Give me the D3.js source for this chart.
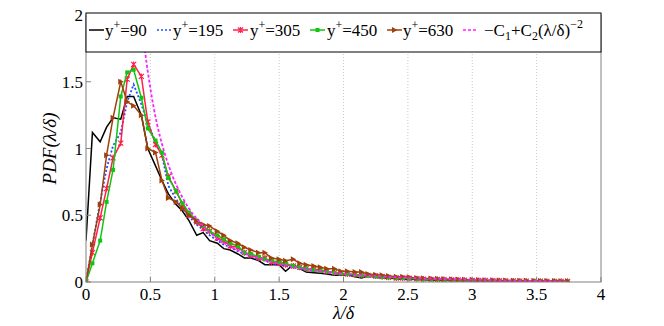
<!DOCTYPE html>
<html>
<head>
<meta charset="utf-8">
<script src="https://cdn.jsdelivr.net/npm/d3@7"></script>
<style>
  body { margin: 0; background: #fff; }
</style>
</head>
<body>
<div id="chart"></div>
<script>
// lambda/delta bin centres shared by the measured series
const lambda = [0.00, 0.05, 0.11, 0.16, 0.21, 0.27, 0.32, 0.37, 0.43, 0.48,
  0.54, 0.59, 0.64, 0.70, 0.75, 0.80, 0.86, 0.91, 0.96, 1.02,
  1.07, 1.12, 1.18, 1.23, 1.28, 1.34, 1.39, 1.44, 1.50, 1.55,
  1.61, 1.66, 1.71, 1.77, 1.82, 1.87, 1.93, 1.98, 2.03, 2.09,
  2.14, 2.19, 2.25, 2.30, 2.35, 2.41, 2.46, 2.51, 2.57, 2.62,
  2.68, 2.73, 2.78, 2.84, 2.89, 2.94, 3.00, 3.05, 3.10, 3.16,
  3.21, 3.26, 3.32, 3.37, 3.42, 3.48, 3.53, 3.58, 3.64, 3.69, 3.74];

const pdf90 = [0.31, 1.12, 1.05, 1.16, 1.23, 1.22, 1.39, 1.39, 1.25, 1.00,
  0.87, 0.76, 0.66, 0.58, 0.53, 0.46, 0.35, 0.37, 0.31, 0.29,
  0.25, 0.24, 0.21, 0.18, 0.18, 0.16, 0.13, 0.13, 0.13, 0.08,
  0.13, 0.10, 0.075, 0.07, 0.065, 0.06, 0.05, 0.05, 0.055, 0.04,
  0.03, 0.045, 0.035, 0.03, 0.03, 0.025, 0.02, 0.02, 0.018, 0.016,
  0.015, 0.013, 0.012, 0.012, 0.01, 0.01, 0.009, 0.008, 0.008, 0.007,
  0.006, 0.006, 0.005, 0.005, 0.004, 0.004, 0.004, 0.003, 0.003, 0.003, 0.003];

const pdf195 = [0.0, 0.28, 0.60, 0.85, 1.02, 1.12, 1.35, 1.48, 1.33, 1.19,
  1.05, 0.95, 0.72, 0.62, 0.55, 0.49, 0.43, 0.39, 0.35, 0.31,
  0.28, 0.26, 0.23, 0.21, 0.19, 0.17, 0.16, 0.14, 0.13, 0.12,
  0.11, 0.10, 0.09, 0.085, 0.08, 0.072, 0.066, 0.06, 0.055, 0.05,
  0.047, 0.043, 0.04, 0.036, 0.033, 0.03, 0.028, 0.026, 0.024, 0.022,
  0.02, 0.019, 0.018, 0.016, 0.015, 0.014, 0.013, 0.012, 0.011, 0.01,
  0.009, 0.009, 0.008, 0.007, 0.007, 0.006, 0.006, 0.005, 0.005, 0.005, 0.004];

const pdf305 = [0.0, 0.22, 0.48, 0.70, 0.93, 1.04, 1.52, 1.63, 1.54, 1.20,
  1.03, 0.95, 0.79, 0.68, 0.58, 0.50, 0.45, 0.40, 0.38, 0.33,
  0.31, 0.27, 0.26, 0.22, 0.20, 0.18, 0.18, 0.15, 0.14, 0.13,
  0.12, 0.11, 0.10, 0.095, 0.09, 0.08, 0.07, 0.065, 0.06, 0.055,
  0.05, 0.05, 0.045, 0.04, 0.035, 0.03, 0.03, 0.028, 0.025, 0.022,
  0.02, 0.019, 0.018, 0.016, 0.015, 0.013, 0.012, 0.011, 0.011, 0.01,
  0.009, 0.008, 0.008, 0.007, 0.007, 0.006, 0.006, 0.005, 0.005, 0.005, 0.005];

const pdf450 = [0.0, 0.14, 0.31, 0.60, 0.84, 1.39, 1.57, 1.59, 1.38, 1.15,
  1.06, 0.97, 0.78, 0.68, 0.59, 0.52, 0.46, 0.42, 0.38, 0.35,
  0.32, 0.29, 0.27, 0.22, 0.21, 0.19, 0.17, 0.16, 0.15, 0.14,
  0.12, 0.11, 0.10, 0.09, 0.085, 0.08, 0.07, 0.065, 0.06, 0.055,
  0.05, 0.047, 0.042, 0.038, 0.035, 0.032, 0.03, 0.027, 0.024, 0.022,
  0.02, 0.019, 0.017, 0.016, 0.014, 0.013, 0.012, 0.011, 0.01, 0.01,
  0.009, 0.008, 0.008, 0.007, 0.006, 0.006, 0.005, 0.005, 0.005, 0.004, 0.004];

const pdf630 = [0.0, 0.28, 0.58, 0.95, 1.23, 1.50, 1.35, 1.32, 1.25, 1.00,
  0.97, 0.76, 0.63, 0.60, 0.55, 0.50, 0.46, 0.43, 0.42, 0.38,
  0.35, 0.31, 0.29, 0.26, 0.24, 0.22, 0.22, 0.18, 0.17, 0.16,
  0.17, 0.14, 0.13, 0.12, 0.11, 0.10, 0.10, 0.08, 0.08, 0.075,
  0.075, 0.06, 0.055, 0.05, 0.045, 0.04, 0.04, 0.035, 0.03, 0.028,
  0.027, 0.024, 0.022, 0.02, 0.019, 0.017, 0.016, 0.015, 0.014, 0.013,
  0.012, 0.011, 0.01, 0.01, 0.009, 0.008, 0.008, 0.007, 0.007, 0.006, 0.006];

// fitted -C1 + C2 (lambda/delta)^-2
const fitX = [0.43, 0.46, 0.50, 0.55, 0.60, 0.65, 0.70, 0.80, 0.90, 1.00,
  1.20, 1.40, 1.60, 1.80, 2.00, 2.50, 3.00, 3.50, 3.74];
const fitY = [2.00, 1.72, 1.45, 1.19, 1.00, 0.85, 0.73, 0.55, 0.43, 0.34,
  0.23, 0.16, 0.115, 0.085, 0.063, 0.032, 0.017, 0.008, 0.004];

const xTicks = [0, 0.5, 1, 1.5, 2, 2.5, 3, 3.5, 4];
const yTicks = [0, 0.5, 1, 1.5, 2];

const FONT = "'Liberation Serif', 'Times New Roman', Times, serif";

const W = 664, H = 326;
const margin = { top: 15, right: 63, bottom: 44, left: 86 };
const iw = W - margin.left - margin.right;
const ih = H - margin.top - margin.bottom;

const svg = d3.select("#chart").append("svg")
  .attr("width", W).attr("height", H)
  .attr("font-family", FONT);

const g = svg.append("g")
  .attr("transform", `translate(${margin.left},${margin.top})`);

const x = d3.scaleLinear().domain([0, 4]).range([0, iw]);
const y = d3.scaleLinear().domain([0, 2]).range([ih, 0]);

// vertical dotted grid
g.selectAll(".grid")
  .data(xTicks.slice(1, -1))
  .enter().append("line")
  .attr("x1", d => x(d)).attr("x2", d => x(d))
  .attr("y1", 0).attr("y2", ih)
  .attr("stroke", "#c8c8c8")
  .attr("stroke-dasharray", "1,2");

g.append("clipPath").attr("id", "clip")
  .append("rect").attr("width", iw).attr("height", ih);

const plot = g.append("g").attr("clip-path", "url(#clip)");

const series = [
  { name: "90", vals: pdf90, color: "#000000", dash: null, marker: null },
  { name: "195", vals: pdf195, color: "#1f4fff", dash: "2,2", marker: null },
  { name: "305", vals: pdf305, color: "#ff1f4a", dash: null, marker: "star" },
  { name: "450", vals: pdf450, color: "#11c611", dash: null, marker: "square" },
  { name: "630", vals: pdf630, color: "#a0400c", dash: null, marker: "tri" }
];

const line = d3.line().x(d => x(d[0])).y(d => y(d[1]));

function drawMarker(sel, type, color) {
  if (type === "square") {
    sel.append("rect").attr("x", -2).attr("y", -2)
      .attr("width", 4).attr("height", 4).attr("fill", color);
  } else if (type === "tri") {
    sel.append("path").attr("d", "M-2.5,-3L3,0L-2.5,3Z").attr("fill", color);
  } else if (type === "star") {
    sel.append("path")
      .attr("d", "M-2.5,-2.5L2.5,2.5M-2.5,2.5L2.5,-2.5M0,-3L0,3")
      .attr("stroke", color).attr("stroke-width", 1.2).attr("fill", "none");
  }
}

series.forEach(s => {
  const pts = s.vals.map((v, i) => [lambda[i], v]);
  plot.append("path")
    .datum(pts)
    .attr("d", line)
    .attr("fill", "none")
    .attr("stroke", s.color)
    .attr("stroke-width", s.dash ? 1.8 : 1.5)
    .attr("stroke-dasharray", s.dash);
  if (s.marker) {
    plot.selectAll(null)
      .data(pts)
      .enter().append("g")
      .attr("transform", d => `translate(${x(d[0])},${y(d[1])})`)
      .each(function () { drawMarker(d3.select(this), s.marker, s.color); });
  }
});

// fitted curve
plot.append("path")
  .datum(fitX.map((v, i) => [v, fitY[i]]))
  .attr("d", line.curve(d3.curveMonotoneX))
  .attr("fill", "none")
  .attr("stroke", "#ff1fff")
  .attr("stroke-width", 1.8)
  .attr("stroke-dasharray", "3,2");

// axes box + ticks (inside, MATLAB style)
g.append("rect").attr("width", iw).attr("height", ih)
  .attr("fill", "none").attr("stroke", "#808080").attr("stroke-width", 1);

g.selectAll(".xt").data(xTicks).enter().append("line")
  .attr("x1", d => x(d)).attr("x2", d => x(d))
  .attr("y1", ih).attr("y2", ih - 5).attr("stroke", "#808080");
g.selectAll(".yt").data(yTicks).enter().append("line")
  .attr("x1", 0).attr("x2", 5)
  .attr("y1", d => y(d)).attr("y2", d => y(d)).attr("stroke", "#808080");

g.selectAll(".xl").data(xTicks).enter().append("text")
  .attr("x", d => x(d)).attr("y", ih + 18)
  .attr("text-anchor", "middle").attr("font-size", 17)
  .text(d => d);
g.selectAll(".yl").data(yTicks).enter().append("text")
  .attr("x", -3).attr("y", d => y(d) + 6)
  .attr("text-anchor", "end").attr("font-size", 17)
  .text(d => d);

svg.append("text")
  .attr("x", margin.left + x(2)).attr("y", 319)
  .attr("text-anchor", "middle").attr("font-size", 18)
  .attr("font-style", "italic")
  .text("λ/δ");

svg.append("text")
  .attr("transform", `translate(56,${margin.top + ih / 2}) rotate(-90)`)
  .attr("text-anchor", "middle").attr("font-size", 19)
  .attr("font-style", "italic")
  .text("PDF(λ/δ)");

// legend
const lg = svg.append("g");
lg.append("rect")
  .attr("x", 86).attr("y", 13).attr("width", 515).attr("height", 39)
  .attr("fill", "#fff").attr("stroke", "#000").attr("stroke-width", 1);

const legendItems = [
  { s: series[0], lx: 89, tx: 105 },
  { s: series[1], lx: 157, tx: 173 },
  { s: series[2], lx: 233, tx: 250 },
  { s: series[3], lx: 310, tx: 327 },
  { s: series[4], lx: 387, tx: 403 }
];
const ly = 30, ty = 36;

legendItems.forEach(it => {
  lg.append("line")
    .attr("x1", it.lx).attr("x2", it.lx + 15)
    .attr("y1", ly).attr("y2", ly)
    .attr("stroke", it.s.color).attr("stroke-width", 1.5)
    .attr("stroke-dasharray", it.s.dash);
  if (it.s.marker) {
    const m = lg.append("g").attr("transform", `translate(${it.lx + 7.5},${ly})`);
    drawMarker(m, it.s.marker, it.s.color);
  }
  const t = lg.append("text").attr("x", it.tx).attr("y", ty).attr("font-size", 17);
  t.append("tspan").text("y");
  t.append("tspan").attr("dy", -7).attr("font-size", 12).text("+");
  t.append("tspan").attr("dy", 7).text("=" + it.s.name);
});

lg.append("line")
  .attr("x1", 463).attr("x2", 478).attr("y1", ly).attr("y2", ly)
  .attr("stroke", "#ff1fff").attr("stroke-width", 1.5)
  .attr("stroke-dasharray", "3,2");
const ft = lg.append("text").attr("x", 484).attr("y", ty).attr("font-size", 17);
ft.append("tspan").text("−C");
ft.append("tspan").attr("dy", 4).attr("font-size", 12).text("1");
ft.append("tspan").attr("dy", -4).text("+C");
ft.append("tspan").attr("dy", 4).attr("font-size", 12).text("2");
ft.append("tspan").attr("dy", -4).text("(λ/δ)");
ft.append("tspan").attr("dy", -8).attr("font-size", 12).text("−2");
</script>
</body>
</html>
